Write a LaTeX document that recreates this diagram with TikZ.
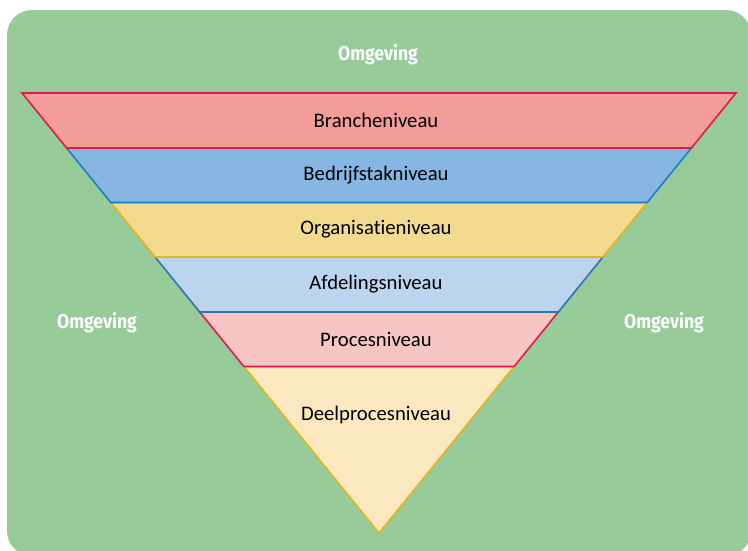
\documentclass[tikz,border=0pt]{standalone}
\usepackage{fontspec}
\setmainfont{Carlito}[Ligatures={NoCommon,NoRare}]
\newfontfamily\omgfont[FakeStretch=0.88]{Fira Sans}
\definecolor{envgreen}{HTML}{97CB99}
\definecolor{redfill}{HTML}{F29D9A}
\definecolor{redline}{HTML}{E2194D}
\definecolor{bluefill}{HTML}{86B6E1}
\definecolor{blueline}{HTML}{1A80CB}
\definecolor{yelfill}{HTML}{F2DA8E}
\definecolor{yelline}{HTML}{E6B41C}
\definecolor{lbluefill}{HTML}{BDD4EF}
\definecolor{lblueline}{HTML}{2E72BA}
\definecolor{pinkfill}{HTML}{F7C5C3}
\definecolor{creamfill}{HTML}{FBE8C0}
\begin{document}
\begin{tikzpicture}[x=1pt,y=-1pt,
  band/.style={line width=1.6pt, line join=miter},
  level/.style={font=\fontsize{20.7}{24}\selectfont, text=black},
  env/.style={font=\omgfont\bfseries\fontsize{20}{22}\selectfont, text=white}]
\useasboundingbox (0,0) rectangle (748,550);
% surrounding environment
\fill[envgreen, rounded corners=25pt] (7,10) rectangle (751,556);
% inverted pyramid, drawn bottom-up so each upper band keeps its outline
\draw[band, draw=yelline, fill=creamfill] (243.9,366.5) -- (514.1,366.5) -- (379,533) -- cycle;
\draw[band, draw=redline, fill=pinkfill] (199.7,312) -- (558.3,312) -- (514.1,366.5) -- (243.9,366.5) -- cycle;
\draw[band, draw=lblueline, fill=lbluefill] (155.1,257) -- (602.9,257) -- (558.3,312) -- (199.7,312) -- cycle;
\draw[band, draw=yelline, fill=yelfill] (110.8,202.5) -- (647.2,202.5) -- (602.9,257) -- (155.1,257) -- cycle;
\draw[band, draw=blueline, fill=bluefill] (66.6,148) -- (691.4,148) -- (647.2,202.5) -- (110.8,202.5) -- cycle;
\draw[band, draw=redline, fill=redfill] (22,93) -- (736,93) -- (691.4,148) -- (66.6,148) -- cycle;
% level labels
\node[level] (branche) at (376,120) {Brancheniveau};
\node[level] (bedrijfstak) at (376,175) {Bedrijfstakniveau};
\node[level] (organisatie) at (376,229.5) {Organisatieniveau};
\node[level] (afdeling) at (376,284) {Afdelingsniveau};
\node[level] (proces) at (376,339) {Procesniveau};
\node[level] (deelproces) at (376,415) {Deelprocesniveau};
% environment labels
\node[env] (omgtop) at (378,55) {Omgeving};
\node[env] (omgleft) at (97,323) {Omgeving};
\node[env] (omgright) at (664,323) {Omgeving};
\end{tikzpicture}
\end{document}
